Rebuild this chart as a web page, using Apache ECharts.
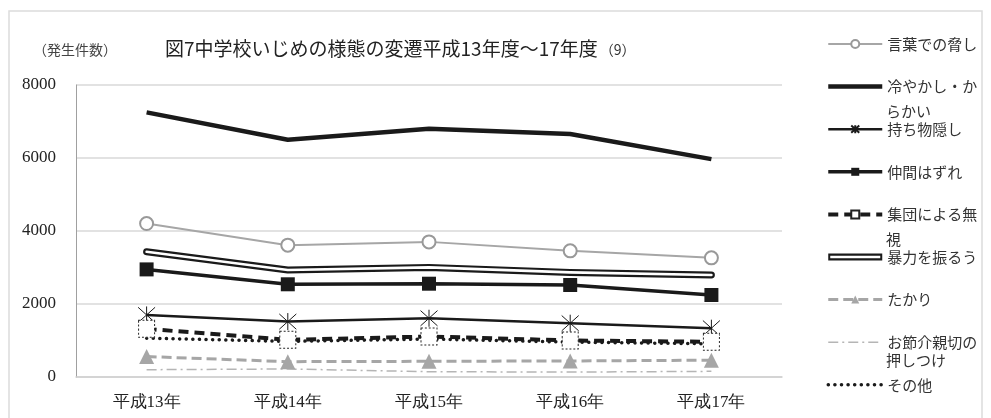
<!DOCTYPE html>
<html>
<head>
<meta charset="utf-8">
<script src="https://cdn.jsdelivr.net/npm/echarts@6/dist/echarts.min.js"></script>
<style>
  html, body { margin: 0; padding: 0; background: #fff; }
  #chart { width: 991px; height: 418px; }
</style>
</head>
<body>
<div id="chart"></div>
<script>
// 年度
var categories = ['平成13年', '平成14年', '平成15年', '平成16年', '平成17年']
var yTicks = [0, 2000, 4000, 6000, 8000]

// 発生件数
var kotoba = [4204, 3612, 3702, 3456, 3265]     // 言葉での脅し
var hiyakashi = [7250, 6500, 6800, 6660, 5970]  // 冷やかし・からかい
var mochimono = [1700, 1518, 1610, 1474, 1337]  // 持ち物隠し
var nakama = [2948, 2540, 2556, 2520, 2247]     // 仲間はずれ
var shudan = [1319, 1018, 1110, 1000, 964]      // 集団による無視
var boryoku = [3430, 2930, 3003, 2866, 2793]    // 暴力を振るう
var takari = [560, 420, 430, 440, 460]          // たかり
var osekkai = [200, 220, 145, 135, 155]         // お節介・親切の押しつけ
var sonota = [1065, 975, 1040, 955, 910]        // その他

var names = ['言葉での脅し', '冷やかし・からかい', '持ち物隠し', '仲間はずれ', '集団による無視',
  '暴力を振るう', 'たかり', 'お節介親切の押しつけ', 'その他']
// 凡例では折り返して表示される
var legendShown = {
  '冷やかし・からかい': '冷やかし・か',
  '集団による無視': '集団による無',
  'お節介親切の押しつけ': 'お節介親切の'
}
// マーカーのない系列（凡例に丸を出さない）
var noMarker = ['冷やかし・からかい', 'お節介親切の押しつけ', 'その他']

var serif = '"Liberation Serif", "DejaVu Serif", serif'
var cjk = '"Noto Sans CJK JP", "Noto Sans", sans-serif'
var grey = '#a6a6a6'
var black = '#1a1a1a'

var chart = echarts.init(document.getElementById('chart'), null, { renderer: 'canvas' })

chart.setOption({
  animation: false,
  backgroundColor: '#fff',
  title: [{
    text: '{a|図7中学校いじめの様態の変遷平成13年度～17年度}{b|（9）}',
    left: 160,
    top: 34,
    textStyle: {
      fontWeight: 'normal',
      rich: {
        a: { fontFamily: cjk, fontSize: 19, color: '#222', fontWeight: 'normal' },
        b: { fontFamily: cjk, fontSize: 14, color: '#333', fontWeight: 'normal', padding: [3, 0, 0, 2] }
      }
    }
  }, {
    text: '（発生件数）',
    left: 28,
    top: 38,
    textStyle: { fontFamily: cjk, fontSize: 14, fontWeight: 'normal', color: '#444' }
  }],
  graphic: [
    {
      type: 'rect', silent: true, z: -1,
      shape: { x: 9, y: 11, width: 973, height: 440 },
      style: { fill: 'none', stroke: '#dcdcdc', lineWidth: 1.5 }
    },
    { type: 'text', left: 886, top: 104, style: { text: 'らかい', font: '15px ' + cjk, fill: '#333' } },
    { type: 'text', left: 886, top: 232, style: { text: '視', font: '15px ' + cjk, fill: '#333' } },
    { type: 'text', left: 886, top: 353, style: { text: '押しつけ', font: '15px ' + cjk, fill: '#333' } }
  ],
  legend: {
    orient: 'vertical',
    left: 826,
    top: 36,
    padding: 0,
    itemWidth: 54,
    itemHeight: 10,
    itemGap: 26.6,
    lineStyle: { width: 'inherit' },
    data: names.map(function (n) {
      if (n === '暴力を振るう') {
        return { name: n, icon: 'path://M0,0 H54 V7 H0 Z M2,2.2 V4.8 H52 V2.2 Z', itemStyle: { color: black } }
      }
      if (noMarker.indexOf(n) > -1) {
        return { name: n, itemStyle: { color: 'transparent', borderColor: 'transparent', borderWidth: 0 } }
      }
      return { name: n }
    }),
    formatter: function (n) { return legendShown[n] || n },
    textStyle: { fontFamily: cjk, fontSize: 15, color: '#333', lineHeight: 16 }
  },
  grid: { left: 76, top: 85, right: 209, bottom: 41 },
  xAxis: {
    type: 'category',
    data: categories,
    boundaryGap: true,
    axisLine: { lineStyle: { color: '#d0d0d0', width: 1.5 } },
    axisTick: { show: false },
    axisLabel: { fontFamily: serif, fontSize: 17, color: '#222', margin: 17 }
  },
  yAxis: {
    type: 'value',
    min: yTicks[0],
    max: yTicks[yTicks.length - 1],
    interval: 2000,
    axisLine: { show: true, lineStyle: { color: '#a0a0a0', width: 1 } },
    axisTick: { show: false },
    splitLine: { lineStyle: { color: '#d9d9d9', width: 1.5 } },
    axisLabel: {
      fontFamily: serif, fontSize: 17, color: '#222', margin: 20,
      formatter: function (v) { return String(v) }
    }
  },
  series: [
    {
      name: '言葉での脅し', type: 'line', data: kotoba, z: 3,
      symbol: 'circle', symbolSize: 13,
      lineStyle: { color: grey, width: 2 },
      itemStyle: { color: '#fff', borderColor: '#999', borderWidth: 2 }
    },
    {
      name: '冷やかし・からかい', type: 'line', data: hiyakashi,
      symbol: 'none',
      lineStyle: { color: black, width: 4.5 },
      itemStyle: { color: black }
    },
    {
      name: '持ち物隠し', type: 'line', data: mochimono,
      symbol: 'path://M10,0 L10,20 M1,1 L19,19 M19,1 L1,19', symbolSize: 17,
      lineStyle: { color: black, width: 2.5 },
      itemStyle: { color: 'none', borderColor: black, borderWidth: 1 }
    },
    {
      name: '仲間はずれ', type: 'line', data: nakama,
      symbol: 'rect', symbolSize: 14,
      lineStyle: { color: black, width: 3.5 },
      itemStyle: { color: black }
    },
    {
      name: '集団による無視', type: 'line', data: shudan,
      symbol: 'rect', symbolSize: [16, 17],
      lineStyle: { color: black, width: 4, type: [10, 6] },
      itemStyle: { color: '#fff', borderColor: '#222', borderWidth: 1, borderType: [2, 2] }
    },
    {
      name: '暴力を振るう', type: 'line', data: boryoku,
      symbol: 'none',
      lineStyle: { color: black, width: 7, cap: 'round', join: 'round' },
      itemStyle: { color: black }
    },
    {
      name: '暴力を振るう(内側)', type: 'line', data: boryoku,
      symbol: 'none', silent: true,
      lineStyle: { color: '#fff', width: 2.6, cap: 'round', join: 'round' },
      itemStyle: { color: '#fff' }
    },
    {
      name: 'たかり', type: 'line', data: takari,
      symbol: 'triangle', symbolSize: 15,
      lineStyle: { color: grey, width: 3, type: [10, 5] },
      itemStyle: { color: grey }
    },
    {
      name: 'お節介親切の押しつけ', type: 'line', data: osekkai,
      symbol: 'none',
      lineStyle: { color: '#b5b5b5', width: 1.5, type: [10, 4, 2, 4] },
      itemStyle: { color: '#b5b5b5' }
    },
    {
      name: 'その他', type: 'line', data: sonota,
      symbol: 'none',
      lineStyle: { color: black, width: 3.5, type: [0.1, 6.5], cap: 'round' },
      itemStyle: { color: black }
    }
  ]
})
</script>
</body>
</html>
